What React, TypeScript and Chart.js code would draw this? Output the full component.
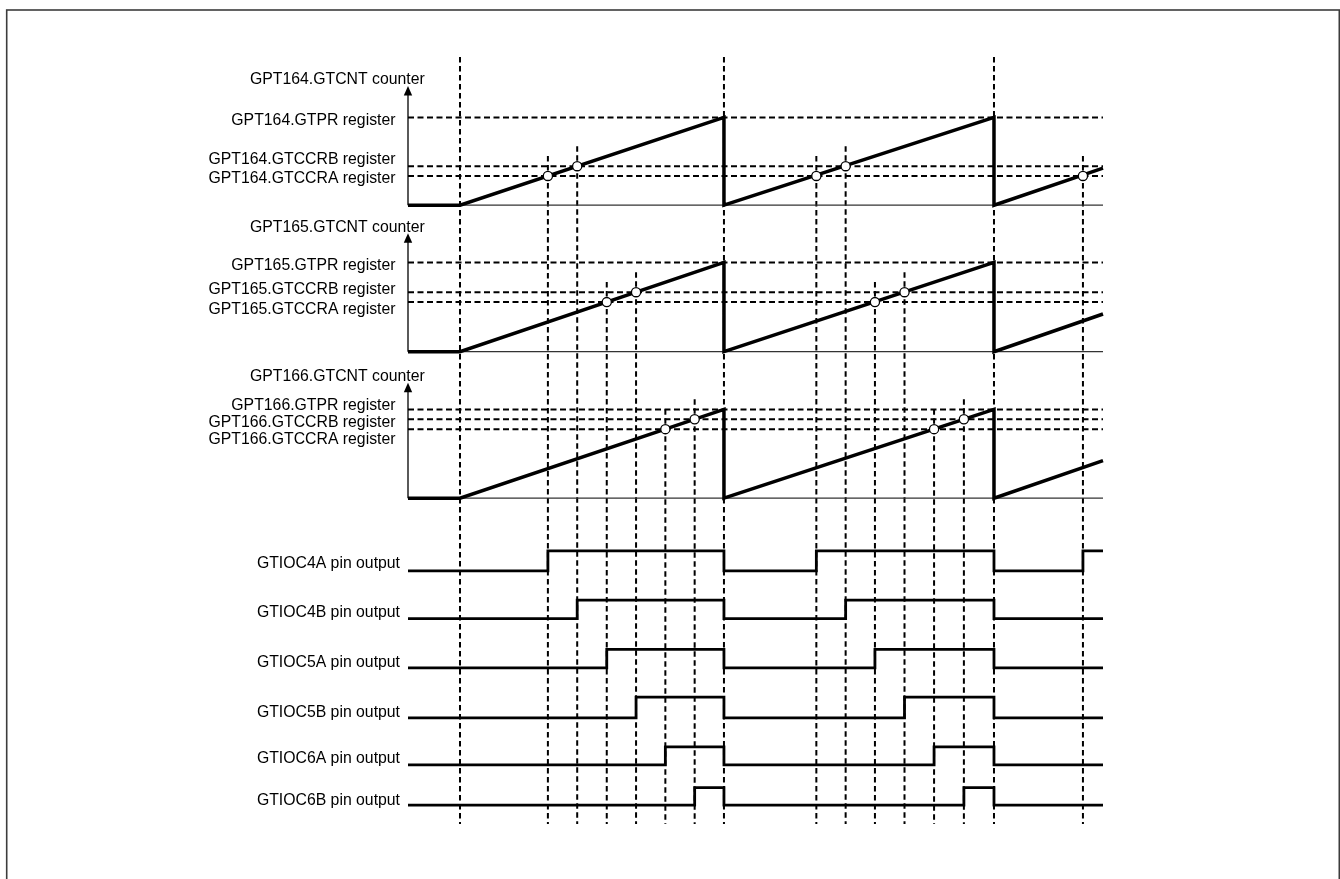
import React, { useEffect, useRef } from "react";
import { Chart, registerables } from "chart.js";

Chart.register(...registerables);

// ---------------- data ----------------
const counterNames = ["GPT164", "GPT165", "GPT166"];
const pinNames = ["GTIOC4A", "GTIOC4B", "GTIOC5A", "GTIOC5B", "GTIOC6A", "GTIOC6B"];
const GTPR = 900; // period register value (counts)
const ccrA = [300, 500, 700]; // GTCCRA per timer
const ccrB = [400, 600, 800]; // GTCCRB per timer
const timeStart = -19.7;
const timeEnd = 243.6;
const periodStarts = [0, 100, 202.3];
const countAtEnd = 380; // counter value at the right edge (3rd period)
// compare-match times per output channel (4A,4B,5A,5B,6A,6B)
const matchPeriod1 = [33.3, 44.4, 55.6, 66.7, 77.8, 88.9];
const matchPeriod2 = [135.0, 146.1, 157.2, 168.4, 179.6, 190.9];
const matchPeriod3 = [236.0]; // only GTIOC4A match visible

// ---------------- layout (pixels) ----------------
const W = 1340;
const H = 879;
const X_LEFT = 408;
const X_RIGHT = 1103;
const bands = [
  { base: 202, top: 113, tip: 86, title: 84, lblOff: [7.3, -1.8, 7] },
  { base: 350.5, top: 260, tip: 233.3, title: 231.7, lblOff: [7.5, 1.5, 11.5] },
  { base: 499, top: 409, tip: 382.7, title: 380.7, lblOff: [1, 7.7, 15.3] },
];
const pinLow = [572.7, 621, 671, 721.7, 769.3, 810];
const pinHigh = [552.3, 602.3, 652.3, 700.7, 751, 792.3];
const pinLabelBase = [568.3, 617, 667, 717, 762.5, 805.3];
const V_TOP = 57;
const V_BOTTOM = 824;
const FONT = '15.8px "Liberation Sans", Arial, sans-serif';

function scaleFor(basePx: number, topPx: number, value: number) {
  const k = (basePx - topPx) / value;
  return { min: -(H - basePx) / k, max: value + topPx / k };
}

export default function App() {
  const ref = useRef<HTMLCanvasElement | null>(null);

  useEffect(() => {
    if (!ref.current) return;
    const scales: any = {
      x: { type: "linear", display: false, min: timeStart, max: timeEnd },
    };
    bands.forEach((b, i) => {
      scales["c" + i] = { type: "linear", display: false, ...scaleFor(b.base, b.top, GTPR) };
    });
    pinNames.forEach((_, j) => {
      scales["p" + j] = { type: "linear", display: false, ...scaleFor(pinLow[j], pinHigh[j], 1) };
    });

    const datasets: any[] = [];
    const pStarts = periodStarts;
    const allMatches = [matchPeriod1, matchPeriod2];

    counterNames.forEach((_, i) => {
      // register dashed lines
      [GTPR, ccrB[i], ccrA[i]].forEach((v) => {
        datasets.push({
          data: [{ x: timeStart, y: v }, { x: timeEnd, y: v }],
          yAxisID: "c" + i,
          borderColor: "#000",
          borderWidth: 2,
          borderDash: [6, 3.5],
          pointRadius: 0,
          order: 4,
        });
      });
      // time axis
      datasets.push({
        data: [{ x: timeStart, y: 0 }, { x: timeEnd, y: 0 }],
        yAxisID: "c" + i,
        borderColor: "#333",
        borderWidth: 1.3,
        pointRadius: 0,
        order: 3,
      });
      // sawtooth counter
      datasets.push({
        data: [
          { x: timeStart, y: 0 },
          { x: pStarts[0], y: 0 },
          { x: pStarts[1], y: GTPR },
          { x: pStarts[1], y: 0 },
          { x: pStarts[2], y: GTPR },
          { x: pStarts[2], y: 0 },
          { x: timeEnd, y: countAtEnd },
        ],
        yAxisID: "c" + i,
        borderColor: "#000",
        borderWidth: 3.5,
        borderJoinStyle: "miter",
        pointRadius: 0,
        order: 1,
      });
      // compare-match circles
      const pts: any[] = [];
      allMatches.forEach((m) => {
        pts.push({ x: m[2 * i], y: ccrA[i] });
        pts.push({ x: m[2 * i + 1], y: ccrB[i] });
      });
      if (i === 0) matchPeriod3.forEach((t) => pts.push({ x: t, y: ccrA[0] }));
      datasets.push({
        data: pts,
        yAxisID: "c" + i,
        showLine: false,
        pointRadius: 4.6,
        pointBackgroundColor: "#fff",
        pointBorderColor: "#000",
        pointBorderWidth: 1.3,
        order: 0,
      });
    });

    pinNames.forEach((_, j) => {
      const rises = [matchPeriod1[j], matchPeriod2[j]];
      const pts: any[] = [{ x: timeStart, y: 0 }];
      rises.forEach((r, p) => {
        const end = pStarts[p + 1];
        pts.push({ x: r, y: 0 }, { x: r, y: 1 }, { x: end, y: 1 }, { x: end, y: 0 });
      });
      if (j === 0) {
        matchPeriod3.forEach((r) => pts.push({ x: r, y: 0 }, { x: r, y: 1 }, { x: timeEnd, y: 1 }));
      } else {
        pts.push({ x: timeEnd, y: 0 });
      }
      datasets.push({
        data: pts,
        yAxisID: "p" + j,
        borderColor: "#000",
        borderWidth: 2.8,
        borderJoinStyle: "miter",
        pointRadius: 0,
        order: 1,
      });
    });

    const deco = {
      id: "deco",
      beforeDatasetsDraw(chart: any) {
        const ctx = chart.ctx;
        const xs = chart.scales.x;
        ctx.save();
        ctx.strokeStyle = "#000";
        ctx.lineWidth = 2;
        ctx.setLineDash([5.5, 3.5]);
        const vline = (t: number, top: number) => {
          const x = xs.getPixelForValue(t);
          ctx.beginPath();
          ctx.moveTo(x, top);
          ctx.lineTo(x, V_BOTTOM);
          ctx.stroke();
        };
        periodStarts.forEach((t) => vline(t, V_TOP));
        counterNames.forEach((_, i) => {
          const ys = chart.scales["c" + i];
          const aTop = ys.getPixelForValue(ccrA[i]) - 20;
          const bTop = ys.getPixelForValue(ccrB[i]) - 20;
          [matchPeriod1, matchPeriod2].forEach((m) => {
            vline(m[2 * i], aTop);
            vline(m[2 * i + 1], bTop);
          });
          if (i === 0) matchPeriod3.forEach((t) => vline(t, aTop));
        });
        ctx.restore();
      },
      afterDraw(chart: any) {
        const ctx = chart.ctx;
        const xs = chart.scales.x;
        ctx.save();
        // frame
        ctx.strokeStyle = "#3c3c3c";
        ctx.lineWidth = 1.6;
        ctx.strokeRect(6.7, 10, 1332.6, 1000);
        // axes with arrows
        const ax = xs.getPixelForValue(timeStart);
        ctx.fillStyle = "#000";
        ctx.strokeStyle = "#000";
        counterNames.forEach((name, i) => {
          const b = bands[i];
          const ys = chart.scales["c" + i];
          const base = ys.getPixelForValue(0);
          ctx.lineWidth = 1.3;
          ctx.beginPath();
          ctx.moveTo(ax, base);
          ctx.lineTo(ax, b.tip + 6);
          ctx.stroke();
          ctx.beginPath();
          ctx.moveTo(ax, b.tip);
          ctx.lineTo(ax - 4.2, b.tip + 9.5);
          ctx.lineTo(ax + 4.2, b.tip + 9.5);
          ctx.closePath();
          ctx.fill();
          ctx.font = FONT;
          ctx.textBaseline = "alphabetic";
          ctx.textAlign = "left";
          ctx.fillText(name + ".GTCNT counter", 250, b.title);
          ctx.textAlign = "right";
          const regs = [
            [name + ".GTPR register", GTPR],
            [name + ".GTCCRB register", ccrB[i]],
            [name + ".GTCCRA register", ccrA[i]],
          ];
          regs.forEach(([txt, v]: any, k) => {
            ctx.fillText(txt, 395.5, ys.getPixelForValue(v) + b.lblOff[k]);
          });
        });
        ctx.textAlign = "right";
        pinNames.forEach((p, j) => {
          ctx.fillText(p + " pin output", 400, pinLabelBase[j]);
        });
        ctx.restore();
      },
    };

    const chart = new Chart(ref.current, {
      type: "line",
      data: { datasets },
      options: {
        animation: false,
        responsive: false,
        devicePixelRatio: 1,
        events: [],
        layout: { padding: { left: X_LEFT, right: W - X_RIGHT, top: 0, bottom: 0 } },
        elements: { line: { tension: 0, borderCapStyle: "butt" } },
        datasets: { line: { clip: false } as any },
        plugins: { legend: { display: false }, tooltip: { enabled: false } },
        scales,
      },
      plugins: [deco],
    } as any);
    return () => chart.destroy();
  }, []);

  return (
    <div style={{ position: "fixed", left: 0, top: 0, width: W, height: H, background: "#fff" }}>
      <canvas ref={ref} width={W} height={H} style={{ display: "block" }} />
    </div>
  );
}
